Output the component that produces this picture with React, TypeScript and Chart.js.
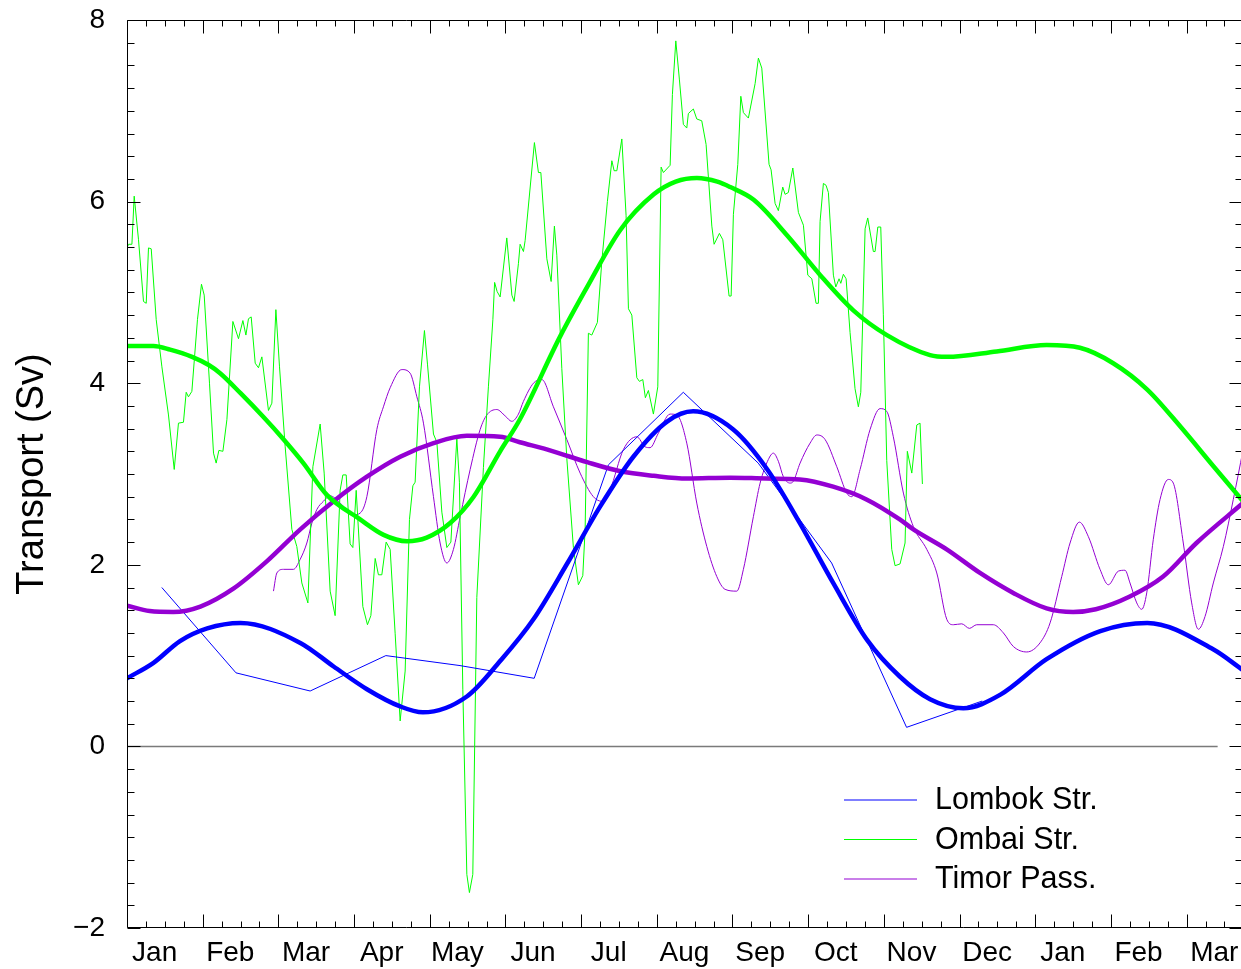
import React, { useEffect, useRef } from 'react';
import { Chart, registerables } from 'chart.js';

Chart.register(...registerables);

// ---------- data ----------
const monthLabels = ['Jan', 'Feb', 'Mar', 'Apr', 'May', 'Jun', 'Jul', 'Aug', 'Sep', 'Oct', 'Nov', 'Dec', 'Jan', 'Feb', 'Mar'];
const yTickValues = [-2, 0, 2, 4, 6, 8];

// x in months since 1 Jan, y in Sv
const lombokMonthlyX = [0.46, 1.44, 2.42, 3.42, 4.40, 5.38, 6.36, 7.35, 8.34, 9.31, 10.30, 11.30];
const lombokMonthlyY = [1.75, 0.81, 0.61, 1.00, 0.89, 0.75, 3.10, 3.90, 3.12, 2.02, 0.21, 0.50];

const lombokFitX = [0, 0.35, 0.70, 1.06, 1.50, 2.29, 2.73, 3.17, 3.61, 3.91, 4.49, 4.93, 5.37, 5.82, 6.25, 6.69, 7.14, 7.48, 8.01, 8.46, 8.89, 9.33, 9.78, 10.21, 10.61, 11.05, 11.54, 12.15, 12.86, 13.48, 14.35, 14.745];
const lombokFitY = [0.75, 0.92, 1.16, 1.30, 1.36, 1.14, 0.88, 0.63, 0.44, 0.375, 0.55, 0.94, 1.40, 2.02, 2.64, 3.19, 3.58, 3.69, 3.49, 3.05, 2.46, 1.80, 1.17, 0.77, 0.52, 0.42, 0.57, 0.96, 1.27, 1.36, 1.07, 0.84];

const ombaiDailyX = [0, 0.02, 0.065, 0.095, 0.152, 0.218, 0.254, 0.284, 0.320, 0.386,
  0.461, 0.548, 0.624, 0.680, 0.746, 0.782, 0.812, 0.857, 0.931, 0.984,
  1.020, 1.090, 1.143, 1.178, 1.214, 1.267, 1.320, 1.399, 1.473, 1.531,
  1.571, 1.605, 1.641, 1.694, 1.737, 1.782, 1.869, 1.914, 1.967, 2.015,
  2.090, 2.178, 2.244, 2.310, 2.390, 2.456, 2.552, 2.605, 2.684, 2.750,
  2.816, 2.852, 2.896, 2.948, 2.984, 3.028, 3.116, 3.177, 3.222, 3.279,
  3.322, 3.367, 3.424, 3.477, 3.543, 3.609, 3.675, 3.732, 3.777, 3.807,
  3.864, 3.930, 3.970, 4.049, 4.094, 4.160, 4.226, 4.279, 4.358, 4.392,
  4.437, 4.490, 4.524, 4.569, 4.622, 4.709, 4.775, 4.834, 4.857, 4.890,
  4.930, 5.018, 5.085, 5.115, 5.172, 5.194, 5.238, 5.260, 5.383, 5.436,
  5.468, 5.547, 5.604, 5.647, 5.679, 5.745, 5.811, 5.898, 5.964, 6.022,
  6.053, 6.096, 6.141, 6.215, 6.273, 6.347, 6.406, 6.436, 6.472, 6.538,
  6.594, 6.625, 6.670, 6.736, 6.770, 6.815, 6.849, 6.889, 6.955, 7.013,
  7.057, 7.087, 7.176, 7.206, 7.251, 7.299, 7.351, 7.396, 7.417, 7.483,
  7.528, 7.594, 7.651, 7.727, 7.757, 7.827, 7.872, 7.955, 7.982, 8.012,
  8.070, 8.110, 8.144, 8.210, 8.299, 8.342, 8.387, 8.483, 8.510, 8.563,
  8.606, 8.664, 8.695, 8.738, 8.797, 8.871, 8.937, 8.995, 9.048, 9.104,
  9.135, 9.157, 9.201, 9.236, 9.267, 9.333, 9.365, 9.408, 9.431, 9.465,
  9.501, 9.553, 9.619, 9.663, 9.695, 9.752, 9.787, 9.861, 9.884, 9.920,
  9.959, 9.993, 10.038, 10.104, 10.148, 10.214, 10.280, 10.310, 10.369, 10.435,
  10.478, 10.509];
const ombaiDailyY = [5.49, 5.53, 5.53, 6.06, 5.58, 4.90, 4.88, 5.49, 5.48, 4.70,
  4.18, 3.65, 3.05, 3.56, 3.57, 3.90, 3.85, 3.91, 4.70, 5.09,
  4.97, 4.00, 3.23, 3.12, 3.26, 3.25, 3.60, 4.68, 4.49, 4.69,
  4.53, 4.71, 4.73, 4.22, 4.17, 4.29, 3.70, 3.78, 4.81, 4.18,
  3.30, 2.39, 2.20, 1.80, 1.58, 3.08, 3.55, 3.01, 1.71, 1.44,
  2.82, 2.99, 2.99, 2.23, 2.19, 2.82, 1.54, 1.34, 1.44, 2.07,
  1.89, 1.89, 2.25, 2.17, 1.24, 0.28, 0.83, 2.50, 2.87, 2.91,
  3.96, 4.58, 4.21, 3.44, 3.35, 2.58, 2.19, 2.25, 3.39, 2.91,
  0.63, -1.41, -1.61, -1.41, 1.64, 3.07, 3.96, 4.70, 5.11, 5.01,
  4.95, 5.60, 4.97, 4.90, 5.32, 5.53, 5.45, 5.57, 6.65, 6.32,
  6.32, 5.37, 5.12, 5.73, 5.41, 4.16, 3.17, 2.19, 1.78, 1.88,
  2.39, 4.55, 4.53, 4.67, 5.34, 6.00, 6.45, 6.34, 6.34, 6.69,
  5.85, 4.82, 4.75, 4.06, 4.02, 4.04, 3.84, 3.92, 3.66, 3.96,
  6.38, 6.32, 6.40, 7.18, 7.77, 7.34, 6.85, 6.81, 6.97, 7.02,
  6.91, 6.89, 6.63, 5.73, 5.53, 5.65, 5.58, 4.96, 4.96, 5.86,
  6.41, 7.16, 6.98, 6.92, 7.30, 7.58, 7.47, 6.41, 6.35, 5.98,
  5.90, 6.16, 6.08, 6.10, 6.37, 5.88, 5.74, 5.19, 5.15, 4.88,
  4.88, 5.78, 6.20, 6.18, 6.10, 5.19, 5.06, 5.15, 5.10, 5.20,
  5.15, 4.56, 3.94, 3.74, 3.90, 5.70, 5.82, 5.45, 5.45, 5.72,
  5.72, 4.76, 3.15, 2.17, 1.99, 2.01, 2.24, 3.25, 3.01, 3.54,
  3.56, 2.89];

const ombaiFitX = [0, 0.35, 0.57, 0.86, 1.08, 1.23, 1.50, 1.80, 2.07, 2.33, 2.64, 3.08, 3.39, 3.70, 3.96, 4.27, 4.58, 4.93, 5.19, 5.72, 6.08, 6.52, 6.96, 7.25, 7.53, 7.80, 7.97, 8.28, 8.72, 9.16, 9.60, 10.04, 10.61, 10.83, 11.49, 12.15, 12.59, 13.03, 13.48, 13.92, 14.36, 14.745];
const ombaiFitY = [4.41, 4.41, 4.37, 4.29, 4.20, 4.11, 3.89, 3.63, 3.38, 3.12, 2.77, 2.50, 2.33, 2.26, 2.30, 2.46, 2.75, 3.25, 3.60, 4.51, 5.06, 5.69, 6.08, 6.22, 6.26, 6.22, 6.16, 6.02, 5.63, 5.19, 4.80, 4.53, 4.31, 4.29, 4.35, 4.42, 4.39, 4.22, 3.93, 3.52, 3.08, 2.70];

const timorDailyX = [1.935, 1.980, 2.067, 2.199, 2.288, 2.376, 2.443, 2.509, 2.596, 2.684,
  2.816, 2.992, 3.081, 3.169, 3.301, 3.388, 3.477, 3.631, 3.741, 3.830, 3.917,
  4.049, 4.137, 4.226, 4.313, 4.402, 4.534, 4.666, 4.754, 4.886, 4.996,
  5.084, 5.172, 5.238, 5.370, 5.481, 5.634, 5.811, 5.987, 6.162, 6.273,
  6.383, 6.559, 6.736, 6.845, 6.911, 7.021, 7.176, 7.264, 7.396, 7.528,
  7.661, 7.793, 7.902, 8.057, 8.144, 8.276, 8.365, 8.474, 8.540, 8.606,
  8.672, 8.761, 8.804, 8.893, 9.025, 9.114, 9.223, 9.378, 9.510, 9.576,
  9.686, 9.818, 9.950, 10.038, 10.125, 10.258, 10.390, 10.567, 10.699, 10.831,
  10.919, 11.029, 11.130, 11.227, 11.446, 11.579, 11.711, 11.888, 12.063, 12.196,
  12.350, 12.460, 12.583, 12.702, 12.856, 12.966, 13.098, 13.186, 13.252, 13.341,
  13.407, 13.473, 13.560, 13.649, 13.758, 13.824, 13.956, 14.067, 14.155, 14.243,
  14.353, 14.485, 14.617, 14.745];
const timorDailyY = [1.71, 1.91, 1.95, 1.95, 2.06, 2.24, 2.46, 2.61, 2.70, 2.76,
  2.68, 2.55, 2.57, 2.75, 3.49, 3.74, 3.95, 4.15, 4.11, 3.85, 3.56,
  2.75, 2.24, 2.02, 2.17, 2.53, 3.05, 3.49, 3.65, 3.71, 3.64,
  3.58, 3.66, 3.80, 4.00, 4.04, 3.74, 3.38, 3.01, 2.75, 2.70,
  2.83, 3.27, 3.41, 3.30, 3.29, 3.45, 3.66, 3.65, 3.34, 2.68,
  2.20, 1.87, 1.73, 1.71, 1.95, 2.53, 2.90, 3.16, 3.23, 3.14,
  2.97, 2.90, 2.92, 3.12, 3.34, 3.43, 3.38, 3.08, 2.79, 2.75,
  3.05, 3.49, 3.72, 3.69, 3.41, 2.79, 2.42, 2.17, 1.91, 1.40,
  1.34, 1.35, 1.30, 1.34, 1.34, 1.25, 1.10, 1.04, 1.14, 1.36,
  1.87, 2.24, 2.47, 2.31, 1.95, 1.78, 1.93, 1.94, 1.80, 1.58,
  1.51, 1.69, 2.28, 2.72, 2.94, 2.90, 2.24, 1.58, 1.29, 1.43,
  1.80, 2.20, 2.72, 3.26];

const timorFitX = [0, 0.30, 0.61, 0.97, 1.41, 1.85, 2.29, 2.73, 3.17, 3.61, 4.05, 4.49, 4.93, 5.19, 5.63, 6.08, 6.52, 6.96, 7.40, 7.97, 8.45, 8.89, 9.33, 9.77, 10.21, 10.39, 10.83, 11.27, 11.71, 12.15, 12.50, 12.80, 13.25, 13.69, 14.13, 14.745];
const timorFitY = [1.55, 1.49, 1.48, 1.54, 1.74, 2.04, 2.39, 2.70, 2.97, 3.19, 3.34, 3.42, 3.41, 3.35, 3.25, 3.13, 3.03, 2.98, 2.95, 2.96, 2.95, 2.94, 2.86, 2.72, 2.50, 2.39, 2.17, 1.91, 1.69, 1.52, 1.48, 1.51, 1.65, 1.87, 2.24, 2.68];

const zeroLineX = [0, 14.41];
const zeroLineY = [0, 0];

const X_MIN = 0;
const X_MAX = 14.745;
const Y_MIN = -2;
const Y_MAX = 8;

// ---------- helpers / style ----------
const FONT = '"Liberation Sans", Arial, Helvetica, sans-serif';
const BLUE = '#0000ff';
const GREEN = '#00ff00';
const PURPLE = '#9400d3';

const toPoints = (xs: number[], ys: number[]) => xs.map((x, i) => ({ x, y: ys[i] }));

const frameTicksPlugin = {
  id: 'frameTicks',
  afterDraw(chart: any) {
    const { ctx, chartArea } = chart;
    const { left, right, top, bottom } = chartArea;
    const xs = chart.scales.x;
    const ys = chart.scales.y;
    ctx.save();
    ctx.strokeStyle = '#000';
    ctx.lineWidth = 1;
    const L = Math.round(left) + 0.5;
    const R = Math.round(right) - 0.5;
    const T = Math.round(top) + 0.5;
    const B = Math.round(bottom) - 0.5;
    ctx.beginPath();
    ctx.moveTo(L, T); ctx.lineTo(R, T);
    ctx.moveTo(L, B); ctx.lineTo(R, B);
    ctx.moveTo(L, T); ctx.lineTo(L, B);
    ctx.moveTo(R, T); ctx.lineTo(R, B);
    // x ticks: quarter-month minor, month major
    const nx = Math.floor(X_MAX * 4 + 1e-6);
    for (let k = 0; k <= nx; k++) {
      const px = Math.round(xs.getPixelForValue(k / 4)) + 0.5;
      const len = k % 4 === 0 ? 13 : 6;
      ctx.moveTo(px, B); ctx.lineTo(px, B - len);
      ctx.moveTo(px, T); ctx.lineTo(px, T + len);
    }
    // y ticks: 0.25 minor, 2 major
    const ny = Math.round((Y_MAX - Y_MIN) * 4);
    for (let k = 0; k <= ny; k++) {
      const v = Y_MIN + k / 4;
      const py = Math.round(ys.getPixelForValue(v)) + 0.5;
      const len = k % 8 === 0 ? 13 : 7;
      ctx.moveTo(L, py); ctx.lineTo(L + len, py);
      ctx.moveTo(R, py); ctx.lineTo(R - len, py);
    }
    ctx.stroke();
    ctx.restore();
  },
};

const legendPlugin = {
  id: 'cornerLegend',
  afterDraw(chart: any) {
    const { ctx } = chart;
    const items = chart.data.datasets.filter((d: any) => d.inLegend);
    ctx.save();
    ctx.font = `30.5px ${FONT}`;
    ctx.textBaseline = 'middle';
    ctx.textAlign = 'left';
    items.forEach((d: any, i: number) => {
      const y = 800 + i * 39.5;
      ctx.strokeStyle = d.borderColor;
      ctx.lineWidth = 1.2;
      ctx.beginPath();
      ctx.moveTo(844, y);
      ctx.lineTo(917, y);
      ctx.stroke();
      ctx.fillStyle = '#000';
      ctx.fillText(d.label, 935, y + 1);
    });
    ctx.restore();
  },
};

export default function App() {
  const canvasRef = useRef<HTMLCanvasElement | null>(null);

  useEffect(() => {
    const canvas = canvasRef.current;
    if (!canvas) return;
    const chart = new Chart(canvas, {
      type: 'line',
      data: {
        datasets: [
          { label: 'Ombai fit', data: toPoints(ombaiFitX, ombaiFitY), borderColor: GREEN, borderWidth: 4.5, pointRadius: 0, cubicInterpolationMode: 'monotone', order: 0 } as any,
          { label: 'Lombok fit', data: toPoints(lombokFitX, lombokFitY), borderColor: BLUE, borderWidth: 4.5, pointRadius: 0, cubicInterpolationMode: 'monotone', order: 0 } as any,
          { label: 'Timor fit', data: toPoints(timorFitX, timorFitY), borderColor: PURPLE, borderWidth: 4.5, pointRadius: 0, cubicInterpolationMode: 'monotone', order: 0 } as any,
          { label: 'Lombok Str.', inLegend: true, data: toPoints(lombokMonthlyX, lombokMonthlyY), borderColor: BLUE, borderWidth: 1, pointRadius: 0, tension: 0, order: 1 } as any,
          { label: 'Ombai Str.', inLegend: true, data: toPoints(ombaiDailyX, ombaiDailyY), borderColor: GREEN, borderWidth: 1, pointRadius: 0, tension: 0, order: 1 } as any,
          { label: 'Timor Pass.', inLegend: true, data: toPoints(timorDailyX, timorDailyY), borderColor: PURPLE, borderWidth: 1, pointRadius: 0, cubicInterpolationMode: 'monotone', order: 1 } as any,
          { label: 'zero', data: toPoints(zeroLineX, zeroLineY), borderColor: '#7a7a7a', borderWidth: 1.5, pointRadius: 0, tension: 0, order: 2 } as any,
        ],
      },
      options: {
        animation: false,
        responsive: true,
        maintainAspectRatio: false,
        layout: { padding: { top: 20, right: 1, left: 0, bottom: 0 } },
        plugins: { legend: { display: false }, tooltip: { enabled: false } },
        scales: {
          x: {
            type: 'linear',
            min: X_MIN,
            max: X_MAX,
            grid: { display: false, drawTicks: false },
            border: { display: false },
            afterBuildTicks: (scale: any) => {
              scale.ticks = monthLabels.map((_, i) => ({ value: i + 0.365 }));
            },
            ticks: {
              autoSkip: false,
              maxRotation: 0,
              minRotation: 0,
              padding: 8,
              color: '#000',
              font: { size: 28, family: FONT },
              callback: (_v: any, i: number) => monthLabels[i],
            },
            afterFit: (scale: any) => {
              scale.height = 41;
              scale.paddingLeft = 0;
              scale.paddingRight = 0;
            },
          },
          y: {
            type: 'linear',
            min: Y_MIN,
            max: Y_MAX,
            grid: { display: false, drawTicks: false },
            border: { display: false },
            afterBuildTicks: (scale: any) => {
              scale.ticks = yTickValues.map((v) => ({ value: v }));
            },
            ticks: {
              padding: 22,
              color: '#000',
              font: { size: 28, family: FONT },
              callback: (v: any) => (Number(v) < 0 ? '\u2212' + Math.abs(Number(v)) : String(v)),
            },
            title: {
              display: true,
              text: 'Transport (Sv)',
              color: '#000',
              font: { size: 38, family: FONT },
              padding: { top: 10, bottom: 0 },
            },
            afterFit: (scale: any) => {
              scale.width = 127;
              scale.paddingTop = 0;
              scale.paddingBottom = 0;
            },
          },
        },
      },
      plugins: [frameTicksPlugin, legendPlugin],
    } as any);
    return () => chart.destroy();
  }, []);

  return (
    <div style={{ position: 'fixed', left: 0, top: 0, width: 1241, height: 969, overflow: 'hidden', background: '#fff' }}>
      <div style={{ position: 'relative', width: 1244, height: 969 }}>
        <canvas ref={canvasRef} />
      </div>
    </div>
  );
}
